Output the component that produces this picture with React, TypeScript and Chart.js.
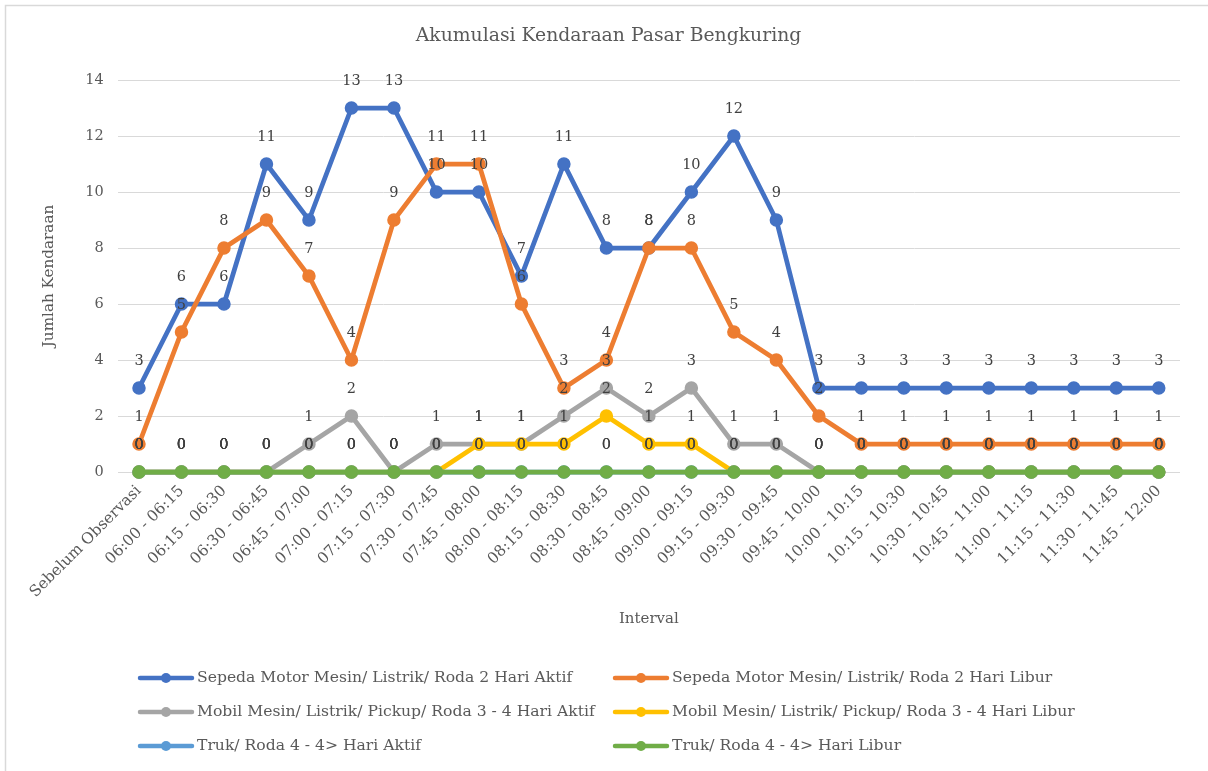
import React, { useEffect, useRef } from "react";
import { Chart, registerables } from "chart.js";
Chart.register(...registerables);

const categories = [
  "Sebelum Observasi", "06:00 - 06:15", "06:15 - 06:30", "06:30 - 06:45", "06:45 - 07:00",
  "07:00 - 07:15", "07:15 - 07:30", "07:30 - 07:45", "07:45 - 08:00", "08:00 - 08:15",
  "08:15 - 08:30", "08:30 - 08:45", "08:45 - 09:00", "09:00 - 09:15", "09:15 - 09:30",
  "09:30 - 09:45", "09:45 - 10:00", "10:00 - 10:15", "10:15 - 10:30", "10:30 - 10:45",
  "10:45 - 11:00", "11:00 - 11:15", "11:15 - 11:30", "11:30 - 11:45", "11:45 - 12:00",
];

const motorAktif = [3, 6, 6, 11, 9, 13, 13, 10, 10, 7, 11, 8, 8, 10, 12, 9, 3, 3, 3, 3, 3, 3, 3, 3, 3];
const motorLibur = [1, 5, 8, 9, 7, 4, 9, 11, 11, 6, 3, 4, 8, 8, 5, 4, 2, 1, 1, 1, 1, 1, 1, 1, 1];
const mobilAktif = [0, 0, 0, 0, 1, 2, 0, 1, 1, 1, 2, 3, 2, 3, 1, 1, 0, 0, 0, 0, 0, 0, 0, 0, 0];
const mobilLibur = [0, 0, 0, 0, 0, 0, 0, 0, 1, 1, 1, 2, 1, 1, 0, 0, 0, 0, 0, 0, 0, 0, 0, 0, 0];
const trukAktif = [0, 0, 0, 0, 0, 0, 0, 0, 0, 0, 0, 0, 0, 0, 0, 0, 0, 0, 0, 0, 0, 0, 0, 0, 0];
const trukLibur = [0, 0, 0, 0, 0, 0, 0, 0, 0, 0, 0, 0, 0, 0, 0, 0, 0, 0, 0, 0, 0, 0, 0, 0, 0];

const seriesNames = [
  "Sepeda Motor Mesin/ Listrik/ Roda 2 Hari Aktif",
  "Sepeda Motor Mesin/ Listrik/ Roda 2 Hari Libur",
  "Mobil Mesin/ Listrik/ Pickup/ Roda 3 - 4 Hari Aktif",
  "Mobil Mesin/ Listrik/ Pickup/ Roda 3 - 4 Hari Libur",
  "Truk/ Roda 4 - 4> Hari Aktif",
  "Truk/ Roda 4 - 4> Hari Libur",
];
const seriesColors = ["#4472C4", "#ED7D31", "#A5A5A5", "#FFC000", "#5B9BD5", "#70AD47"];
const seriesData = [motorAktif, motorLibur, mobilAktif, mobilLibur, trukAktif, trukLibur];

const chartTitle = "Akumulasi Kendaraan Pasar Bengkuring";

const FONT = "'DejaVu Serif', serif";
const TEXT = "#595959";

const labelPlugin = {
  id: "pointLabels",
  afterDatasetsDraw(chart: any) {
    const ctx = chart.ctx;
    ctx.save();
    ctx.font = `14.5px ${FONT}`;
    ctx.fillStyle = "#404040";
    ctx.textAlign = "center";
    ctx.textBaseline = "middle";
    chart.data.datasets.forEach((ds: any, di: number) => {
      const meta = chart.getDatasetMeta(di);
      meta.data.forEach((pt: any, i: number) => {
        ctx.fillText(String(ds.data[i]), pt.x, pt.y - 27);
      });
    });
    ctx.restore();
  },
};

const legendPlugin = {
  id: "customLegend",
  afterDraw(chart: any) {
    const ctx = chart.ctx;
    ctx.save();
    // title
    ctx.fillStyle = TEXT;
    ctx.font = `18.8px ${FONT}`;
    ctx.textAlign = "center";
    ctx.textBaseline = "middle";
    ctx.fillText(chartTitle, 608.5, 36);
    // legend
    const colX = [140, 615];
    const rowY = [678, 712, 746];
    chart.data.datasets.forEach((ds: any, i: number) => {
      const x = colX[i % 2];
      const y = rowY[Math.floor(i / 2)];
      ctx.strokeStyle = ds.borderColor;
      ctx.lineWidth = 4.5;
      ctx.lineCap = "round";
      ctx.beginPath();
      ctx.moveTo(x, y);
      ctx.lineTo(x + 52, y);
      ctx.stroke();
      ctx.fillStyle = ds.borderColor;
      ctx.beginPath();
      ctx.arc(x + 26, y, 5, 0, Math.PI * 2);
      ctx.fill();
      ctx.fillStyle = TEXT;
      ctx.font = `15.6px ${FONT}`;
      ctx.textAlign = "left";
      ctx.textBaseline = "middle";
      ctx.fillText(ds.label, x + 57, y);
    });
    ctx.strokeStyle = "#D9D9D9";
    ctx.lineWidth = 1.5;
    ctx.beginPath();
    ctx.moveTo(5.5, 771);
    ctx.lineTo(5.5, 5.5);
    ctx.lineTo(1208, 5.5);
    ctx.stroke();
    ctx.restore();
  },
};

export default function App() {
  const ref = useRef<HTMLCanvasElement | null>(null);
  useEffect(() => {
    document.body.style.margin = "0";
    const canvas = ref.current!;
    const chart = new Chart(canvas, {
      type: "line",
      data: {
        labels: categories,
        datasets: seriesData.map((d, i) => ({
          label: seriesNames[i],
          data: d,
          borderColor: seriesColors[i],
          backgroundColor: seriesColors[i],
          pointBackgroundColor: seriesColors[i],
          pointBorderColor: seriesColors[i],
          borderWidth: 4.75,
          pointRadius: 6,
          pointBorderWidth: 1.5,
          tension: 0,
          clip: false as any,
          order: 6 - i,
        })),
      },
      options: {
        animation: false,
        responsive: false,
        devicePixelRatio: 1,
        layout: { padding: { left: 0, right: 28, top: 80, bottom: 139 } },
        plugins: {
          legend: { display: false },
          tooltip: { enabled: false },
          title: { display: false },
        },
        scales: {
          x: {
            offset: true,
            grid: { display: false, drawTicks: false },
            border: { display: false },
            ticks: {
              color: TEXT,
              font: { family: FONT, size: 15.4 },
              minRotation: 45,
              maxRotation: 45,
              autoSkip: false,
              padding: 10,
            },
            title: {
              display: true,
              text: "Interval",
              color: TEXT,
              font: { family: FONT, size: 15 },
              padding: { top: 0, bottom: 4 },
            },
            afterFit(scale: any) {
              scale.height = 160;
            },
          },
          y: {
            min: 0,
            max: 14,
            ticks: {
              stepSize: 2,
              color: TEXT,
              font: { family: FONT, size: 14.5 },
              padding: 14,
            },
            grid: { color: "#D9D9D9", lineWidth: 1, drawTicks: false },
            border: { display: false },
            title: {
              display: true,
              text: "Jumlah Kendaraan",
              color: TEXT,
              font: { family: FONT, size: 15.2 },
              padding: { top: 40, bottom: 0 },
            },
            afterFit(scale: any) {
              scale.width = 117.75;
            },
          },
        },
      },
      plugins: [labelPlugin, legendPlugin],
    });
    return () => chart.destroy();
  }, []);
  return <canvas ref={ref} width={1208} height={771} style={{ display: "block" }} />;
}
